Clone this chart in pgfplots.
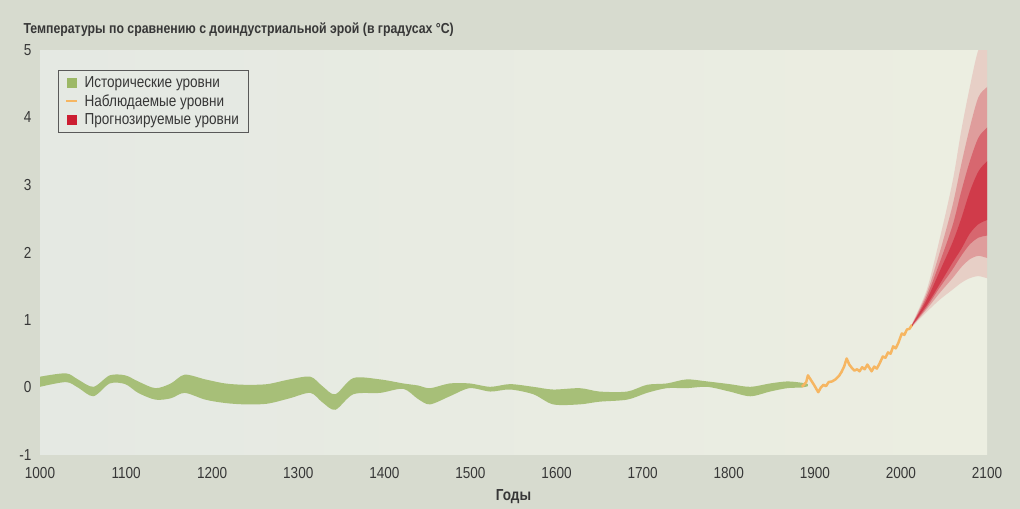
\documentclass[border=0pt]{standalone}
\usepackage{fontspec}
\setmainfont{Liberation Sans}[FakeStretch=0.85]
\usepackage{pgfplots}
\usepackage{pgfplotstable}
\pgfplotsset{compat=1.18}
\usepgfplotslibrary{fillbetween}

\definecolor{outerbg}{RGB}{215,219,207}
\definecolor{panelL}{RGB}{229,233,227}
\definecolor{panelR}{RGB}{236,238,225}
\definecolor{histgreen}{RGB}{156,184,102}
\definecolor{obsorange}{RGB}{246,182,98}
\definecolor{projred}{RGB}{204,30,50}
\definecolor{txt}{RGB}{55,55,55}

% historical band: year, upper, lower
\pgfplotstableread{
year up lo
1000 0.16 0.01
1030 0.21 0.08
1044 0.12 0.00
1062 0.01 -0.13
1081 0.18 0.06
1099 0.18 0.05
1114 0.09 -0.08
1134 -0.01 -0.18
1152 0.06 -0.16
1168 0.19 -0.08
1192 0.12 -0.18
1215 0.06 -0.23
1238 0.04 -0.25
1264 0.05 -0.24
1290 0.12 -0.16
1314 0.16 -0.08
1328 0.02 -0.22
1343 -0.10 -0.33
1364 0.14 -0.10
1395 0.12 -0.08
1422 0.06 -0.02
1439 0.03 -0.17
1453 -0.01 -0.25
1476 0.06 -0.13
1499 0.06 -0.01
1523 0.01 -0.06
1546 0.05 -0.03
1573 0.01 -0.10
1596 -0.03 -0.25
1627 -0.01 -0.25
1650 -0.06 -0.21
1682 -0.06 -0.18
1705 0.04 -0.08
1728 0.06 -0.01
1751 0.12 -0.01
1775 0.09 0.01
1801 0.05 -0.06
1825 0.01 -0.13
1848 0.06 -0.06
1868 0.09 -0.01
1885 0.07 0.00
1892 0.05 0.02
}\hist

% observed series
\pgfplotstableread{
year t
1885 0.01
1890 0.08
1892 0.18
1895 0.12
1899 0.04
1904 -0.07
1907 0.00
1910 0.04
1913 0.02
1916 0.08
1920 0.09
1924 0.12
1928 0.17
1931 0.23
1934 0.31
1937 0.43
1940 0.34
1943 0.29
1946 0.25
1949 0.27
1952 0.24
1955 0.30
1958 0.27
1961 0.34
1964 0.28
1966 0.24
1969 0.31
1972 0.28
1975 0.35
1979 0.46
1982 0.44
1985 0.52
1988 0.50
1991 0.61
1994 0.58
1997 0.66
2001 0.80
2004 0.78
2007 0.86
2010 0.87
2013 0.93
}\obs

\pagecolor{outerbg}

\begin{document}
\begin{tikzpicture}
\path (0,0) rectangle (1020bp,509bp);
\node[anchor=west, text=txt, font=\bfseries\fontsize{14.5}{17}\selectfont]
  at (20bp,479bp) {Температуры по сравнению с доиндустриальной эрой (в градусах °C)};
\begin{axis}[
  at={(40bp,54bp)}, anchor=south west,
  scale only axis, width=947bp, height=405bp,
  xmin=1000, xmax=2100, ymin=-1, ymax=5,
  axis line style={draw=none},
  major tick length=0pt,
  xtick={1000,1100,...,2100}, ytick={-1,0,...,5},
  /pgf/number format/assume math mode=true,
  /pgf/number format/1000 sep={},
  tick label style={text=txt, font=\fontsize{16}{18}\selectfont},
  xticklabel shift=9bp, yticklabel shift=5bp,
  xlabel={Годы},
  xlabel style={text=txt, font=\bfseries\fontsize{16}{18}\selectfont,
    at={(axis description cs:0.5,0)}, anchor=center, yshift=-42bp},
  axis background/.style={left color=panelL, right color=panelR},
  legend style={at={(rel axis cs:0.019,0.951)}, anchor=north west,
    draw=black!65, fill=panelL, text=txt,
    font=\fontsize{16}{18}\selectfont, row sep=2bp,
    inner xsep=7bp, inner ysep=4bp},
  legend cell align=left,
]
\addlegendimage{legend image code/.code={\fill[histgreen] (2bp,-4.5bp) rectangle (11bp,4.5bp); \path (17bp,0bp);}}
\addlegendentry{Исторические уровни}
\addlegendimage{legend image code/.code={\draw[obsorange, line width=2.5bp] (1bp,0bp) -- (12bp,0bp); \path (17bp,0bp);}}
\addlegendentry{Наблюдаемые уровни}
\addlegendimage{legend image code/.code={\fill[projred] (2bp,-4.5bp) rectangle (11bp,4.5bp); \path (17bp,0bp);}}
\addlegendentry{Прогнозируемые уровни}

% historical band
\addplot[name path=hu, draw=none, smooth, forget plot] table[x=year, y=up] {\hist};
\addplot[name path=hl, draw=none, smooth, forget plot] table[x=year, y=lo] {\hist};
\addplot[histgreen, fill opacity=0.85, forget plot] fill between[of=hu and hl];

% observed
\addplot[obsorange, line width=2.5bp, line join=round, forget plot] table[x=year, y=t] {\obs};

% projected fan, nested layers from outer to core (ends past 2100 so the clip cuts them)
\addplot[draw=none, fill=projred, fill opacity=0.15, smooth, tension=0.5, forget plot] coordinates {
 (2013,0.95) (2030,1.45) (2045,2.20) (2060,3.05) (2070,3.80) (2080,4.45) (2090,5.00) (2100,5.10) (2110,5.20)
 (2110,1.60) (2100,1.62) (2090,1.65) (2080,1.62) (2070,1.55) (2060,1.45) (2045,1.30) (2030,1.12) (2013,0.90)} -- cycle;
\addplot[draw=none, fill=projred, fill opacity=0.28, smooth, tension=0.5, forget plot] coordinates {
 (2013,0.94) (2030,1.40) (2045,2.00) (2060,2.70) (2070,3.30) (2080,3.85) (2090,4.30) (2100,4.45) (2110,4.55)
 (2110,1.90) (2100,1.92) (2090,1.95) (2080,1.90) (2070,1.78) (2060,1.62) (2045,1.40) (2030,1.16) (2013,0.91)} -- cycle;
\addplot[draw=none, fill=projred, fill opacity=0.42, smooth, tension=0.5, forget plot] coordinates {
 (2013,0.93) (2030,1.35) (2045,1.85) (2060,2.40) (2070,2.90) (2080,3.35) (2090,3.70) (2100,3.85) (2110,3.95)
 (2110,2.26) (2100,2.25) (2090,2.22) (2080,2.12) (2070,1.95) (2060,1.75) (2045,1.48) (2030,1.19) (2013,0.91)} -- cycle;
\addplot[draw=none, fill=projred, fill opacity=0.60, smooth, tension=0.5, forget plot] coordinates {
 (2013,0.93) (2030,1.30) (2045,1.72) (2060,2.15) (2070,2.50) (2080,2.90) (2090,3.20) (2100,3.35) (2110,3.45)
 (2110,2.52) (2100,2.48) (2090,2.42) (2080,2.28) (2070,2.05) (2060,1.85) (2045,1.53) (2030,1.22) (2013,0.92)} -- cycle;
\end{axis}
\end{tikzpicture}
\end{document}
